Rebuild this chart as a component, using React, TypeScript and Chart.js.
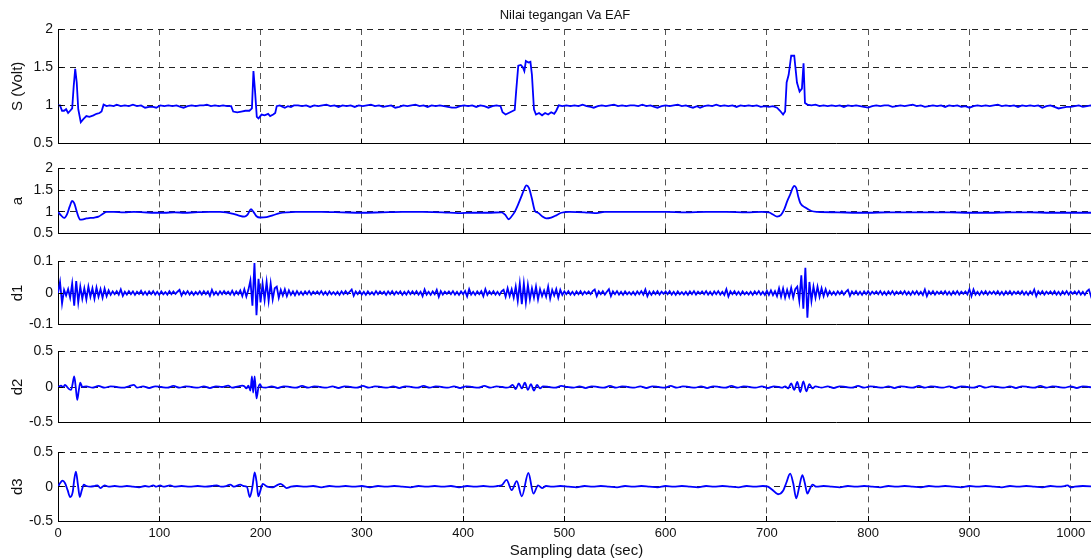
import React, { useEffect, useRef } from "react";
import { Chart, registerables } from "chart.js";

Chart.register(...registerables);

const TITLE = "Nilai tegangan Va EAF";
const X_TITLE = "Sampling data (sec)";
const X_TICKS = [0, 100, 200, 300, 400, 500, 600, 700, 800, 900, 1000];
const S_TICKS = [0.5, 1, 1.5, 2];
const A_TICKS = [0.5, 1, 1.5, 2];
const D1_TICKS = [-0.1, 0, 0.1];
const D2_TICKS = [-0.5, 0, 0.5];
const D3_TICKS = [-0.5, 0, 0.5];

// S (Volt): [sample, value]
const S_PTS = [
  [0,1.0],[2,1.0],[4,0.93],[6,0.93],[8,0.95],[10,0.9],[12,0.93],[14,0.96],[15.5,1.25],[17,1.48],[18.5,1.3],[20,0.95],[22.5,0.78],[25,0.82],[28,0.86],[31,0.85],[35,0.87],[38,0.89],[41,0.9],[43,0.92],[45,1.01],[48,0.99],
  [51,1.0],[55,0.99],[58,1.01],[62,0.99],[66,1.0],[70,0.99],[74,1.01],[78,0.99],[82,1.0],[86,0.97],[90,0.98],[94,0.98],[97,0.97],[101,1.0],[105,0.99],[109,1.0],[113,0.99],[117,1.0],[121,0.98],[124,0.97],[128,0.99],[132,1.0],[136,0.99],[140,1.0],[144,1.0],[147,1.01],[151,0.99],[155,1.0],[159,0.99],[163,1.0],[167,0.99],[171,0.99],
  [173,0.92],[177,0.91],[181,0.92],[185,0.93],[189,0.93],[191.5,0.96],[193,1.45],[194.5,1.2],[196.3,0.85],[198,0.83],[201,0.88],[204,0.87],[207.5,0.89],[209.5,0.86],[212.5,0.88],[214.5,0.9],[216,0.99],[219,1.0],[222,0.98],[224,0.97],[227,0.99],[230,0.98],[233,1.0],
  [237,1.0],[241,0.99],[245,1.0],[249,0.98],[253,1.0],[257,0.99],[261,1.0],[265,1.01],[269,0.99],[273,1.0],[277,0.98],[281,1.0],[285,0.99],[289,1.0],[293,0.98],[297,1.0],[301,0.99],[305,1.0],[309,1.01],[313,0.99],[317,1.0],[321,0.98],[325,0.99],[329,1.0],[333,0.97],[337,0.98],[341,1.0],[345,0.99],[349,1.0],[353,1.01],[357,0.99],[361,1.0],[365,0.98],[369,1.0],[373,0.99],[377,1.0],[381,0.99],[385,0.98],[389,0.97],[393,0.97],[397,0.99],[401,1.0],[405,0.99],[409,1.0],[413,0.98],[417,1.0],[421,0.99],[425,0.97],[429,0.99],[433,1.0],[437,0.99],
  [439,0.91],[442,0.88],[445,0.9],[448,0.92],[451,0.94],[452.5,1.2],[454.5,1.52],[457,1.53],[459,1.5],[460.5,1.45],[462,1.58],[464.5,1.56],[466.5,1.57],[468,1.4],[470,0.95],[472,0.88],[475,0.9],[478,0.87],[481,0.9],[484,0.88],[487,0.91],[490,0.89],[492,0.93],[494.5,1.0],[498,0.99],[502,1.0],
  [506,0.99],[510,1.0],[514,0.99],[518,1.01],[522,0.99],[526,0.98],[529,0.97],[533,0.99],[537,1.0],[541,0.99],[545,1.0],[549,1.01],[553,0.99],[557,1.0],[561,0.99],[565,1.0],[569,1.0],[573,0.99],[577,1.01],[581,0.99],[585,1.0],[589,0.98],[592,0.97],[596,0.99],[600,1.0],[604,0.99],[608,1.0],[612,1.01],[616,0.99],[620,1.0],[624,0.98],[627,0.97],[631,0.99],[634,0.97],[638,0.99],[642,1.0],[646,0.99],[650,1.01],[654,0.99],[658,1.0],[662,0.99],[666,1.0],[670,0.98],[674,1.0],[678,0.99],[682,1.0],[686,0.99],[690,1.0],[694,0.98],[698,0.99],[702,0.98],[706,0.99],
  [710,0.97],[713,0.93],[716,0.88],[718,0.92],[719.5,1.3],[721.5,1.4],[724,1.65],[727,1.65],[729.7,1.3],[732.3,1.18],[734.6,1.22],[736.2,1.55],[737.6,1.03],[740,1.01],
  [744,1.0],[748,1.01],[752,0.99],[756,1.0],[760,0.99],[764,1.0],[768,0.99],[772,1.0],[776,0.98],[780,1.0],[784,0.99],[788,1.0],[792,0.99],[796,0.98],[800,0.97],[804,0.99],[808,1.0],[812,0.99],[816,1.0],[820,1.0],[824,0.98],[828,0.99],[832,1.0],[836,0.99],[840,1.0],[844,1.01],[848,0.99],[852,1.0],[856,0.98],[860,0.99],[864,1.0],[868,0.99],[872,1.0],[876,0.98],[880,1.0],[884,0.99],[888,1.0],[892,0.98],[896,0.99],[900,0.97],[904,0.99],[908,1.0],[912,0.99],[916,1.0],[920,0.99],[924,1.0],[928,1.01],[932,0.99],[936,1.0],[940,0.99],[944,1.0],[948,0.98],[952,1.0],[956,0.99],[960,1.0],[964,0.99],[968,1.0],[972,0.97],[976,0.99],[980,1.0],[984,0.98],[988,0.96],[992,0.97],[996,0.98],[1000,0.98],[1004,0.99],[1008,1.0],[1012,0.98],[1016,0.99],[1020,1.0],[1024,0.99]
];

// a (approximation)
const A_PTS = [
  [0,1.0],[3,0.92],[6,0.86],[9,0.95],[11.5,1.12],[14,1.25],[16,1.2],[18,1.05],[20,0.9],[22,0.82],[25,0.83],[28,0.85],[32,0.86],[36,0.87],[40,0.89],[44,0.95],[48,1.0],[55,1.0],[65,0.99],[75,1.0],[85,0.99],[95,0.98],[105,0.98],[115,0.99],[125,0.98],[135,0.99],[150,1.0],[160,1.0],[166,0.99],
  [172,0.96],[178,0.92],[184,0.89],[187,0.93],[190.5,1.06],[193,1.0],[196,0.9],[199.5,0.87],[206,0.88],[212,0.92],[219,0.97],[226,0.99],[235,1.0],[260,1.0],[280,0.99],[300,0.98],[320,0.99],[340,1.0],[360,1.0],[380,0.99],[395,0.97],[410,0.98],[425,0.98],[438,0.99],
  [442,0.92],[445,0.83],[448,0.9],[451,1.0],[454,1.15],[457,1.32],[460,1.5],[462.5,1.61],[465,1.55],[468,1.3],[471,1.02],[474,0.98],[478,0.9],[482,0.85],[487,0.87],[492,0.92],[497,0.98],[505,1.0],[520,0.99],[530,0.97],[540,1.0],[560,1.0],[580,1.0],[600,1.0],[620,0.99],[640,1.0],[660,1.0],[680,0.99],[695,1.0],
  [702,0.99],[706,0.94],[710,0.89],[714,0.93],[717,1.05],[720,1.24],[723,1.4],[725.5,1.55],[727,1.6],[729,1.55],[731,1.35],[733,1.2],[738,1.1],[744,1.02],[750,1.0],[770,0.99],[790,0.98],[800,0.98],[820,0.99],[840,0.99],[860,0.99],[880,0.99],[900,0.98],[920,0.98],[940,0.99],[960,0.99],[980,0.98],[1000,0.98],[1024,0.98]
];

// d1 detail, one value every 2 samples from 0 to 1024
const D1_STEP = 2;
const D1_VALUES = [
  0, 0.035, -0.033, 0.01, -0.008, 0.012, -0.015, 0.03, -0.04, 0.038, -0.03, 0.02, -0.018, 0.015, -0.02, 0.02, -0.012, 0.015, -0.018, 0.017, -0.012, 0.012, -0.015, 0.014, -0.01,
  0.008, -0.006, 0.005, -0.004, 0.006, -0.005, 0.011, -0.009, 0.004, -0.005, 0.006, -0.004, 0.005, -0.006, 0.004, -0.003, 0.007, -0.005, 0.004, -0.006, 0.005, -0.004, 0.006, -0.005, 0.004,
  -0.006, 0.005, -0.004, 0.003, -0.005, 0.006, -0.004, 0.005, -0.003, 0.004, 0.01, -0.008, 0.005, -0.004, 0.006, -0.005, 0.004, -0.006, 0.003, -0.004, 0.005, -0.005, 0.006, -0.004, 0.005,
  -0.009, 0.01, -0.005, 0.004, -0.006, 0.005, -0.004, 0.006, -0.003, 0.004, -0.005, 0.007, -0.006, 0.005, -0.004, 0.008, -0.01, 0.012, -0.011, 0.01, 0.04, -0.04, 0.095, -0.07, 0.045,
  -0.03, 0.03, -0.022, 0.035, -0.025, 0.03, -0.02, 0.015, 0.02, -0.015, 0.01, -0.008, 0.012, -0.01, 0.008, -0.006, 0.005, -0.007, 0.006, -0.005, 0.004, -0.006, 0.005, -0.004, 0.006,
  -0.005, 0.004, -0.003, 0.005, -0.004, 0.006, -0.005, 0.004, -0.006, 0.005, -0.004, 0.003, -0.005, 0.004, -0.006, 0.005, -0.004, 0.006, -0.003, 0.004, 0.011, -0.009, 0.005, -0.004, 0.006,
  -0.005, 0.004, -0.006, 0.005, -0.004, 0.003, -0.005, 0.006, -0.004, 0.005, -0.003, 0.004, -0.006, 0.005, -0.004, 0.006, -0.005, 0.004, -0.003, 0.005, -0.006, 0.004, -0.005, 0.006, -0.004,
  0.005, -0.004, 0.006, -0.005, 0.004, -0.01, 0.011, -0.005, 0.004, -0.006, 0.005, -0.004, 0.01, -0.012, 0.006, -0.005, 0.004, -0.003, 0.005, -0.004, 0.006, -0.005, 0.004, -0.006, 0.005,
  -0.004, 0.006, -0.011, 0.012, -0.005, 0.004, -0.006, 0.005, -0.004, 0.006, -0.01, 0.012, -0.006, 0.005, -0.004, 0.006, -0.005, 0.004, -0.006, 0.005, 0.01, -0.012, 0.015, -0.01, 0.012,
  -0.015, 0.02, -0.025, 0.03, -0.035, 0.03, -0.03, 0.025, -0.02, 0.015, -0.015, 0.02, -0.02, 0.012, -0.01, 0.008, -0.012, 0.02, -0.018, 0.01, -0.008, 0.012, -0.015, 0.01, -0.006,
  0.005, -0.004, 0.006, -0.005, 0.004, -0.006, 0.005, -0.004, 0.006, -0.005, 0.004, -0.003, 0.005, -0.004, 0.006, 0.011, -0.01, 0.005, -0.004, 0.006, -0.005, 0.004, 0.012, -0.01, 0.005,
  -0.004, 0.006, -0.005, 0.004, -0.006, 0.005, -0.004, 0.003, -0.005, 0.004, -0.006, 0.005, -0.004, 0.006, -0.005, 0.011, -0.01, 0.004, -0.006, 0.005, -0.004, 0.006, -0.005, 0.004, -0.003,
  0.005, -0.004, 0.006, -0.005, 0.004, -0.006, 0.005, -0.004, 0.003, -0.005, 0.004, -0.006, 0.005, -0.004, 0.006, -0.005, 0.004, -0.003, 0.005, -0.004, 0.006, -0.005, 0.004, -0.006, 0.005,
  -0.004, 0.006, -0.005, 0.004, -0.006, 0.012, -0.011, 0.005, -0.004, 0.006, -0.005, 0.004, -0.006, 0.005, -0.004, 0.003, -0.005, 0.004, -0.006, 0.005, -0.004, 0.006, -0.005, 0.004, -0.006,
  0.007, -0.006, 0.008, -0.007, 0.006, -0.01, 0.015, -0.012, 0.014, -0.015, 0.01, -0.012, 0.016, -0.014, 0.012, 0.02, -0.025, 0.056, -0.05, 0.08, -0.078, 0.035, -0.025, 0.02, -0.015,
  0.02, -0.012, 0.015, -0.01, 0.012, -0.008, 0.006, -0.005, 0.004, -0.006, 0.005, -0.004, 0.006, -0.005, 0.004, 0.01, -0.009, 0.005, -0.004, 0.006, -0.005, 0.004, -0.006, 0.005, -0.004,
  0.006, -0.005, 0.004, -0.003, 0.005, -0.004, 0.006, -0.005, 0.004, -0.006, 0.005, -0.004, 0.006, -0.005, 0.004, -0.003, 0.005, -0.004, 0.006, -0.005, 0.004, -0.006, 0.005, -0.004, 0.006,
  -0.005, 0.004, -0.006, 0.011, -0.01, 0.005, -0.004, 0.006, -0.005, 0.004, -0.003, 0.005, -0.004, 0.006, -0.005, 0.004, -0.006, 0.005, -0.004, 0.006, -0.005, 0.004, -0.003, 0.005, -0.004,
  0.012, -0.01, 0.011, -0.005, 0.004, -0.006, 0.005, -0.004, 0.006, -0.005, 0.004, -0.003, 0.005, -0.004, 0.006, -0.005, 0.004, -0.006, 0.005, -0.004, 0.006, -0.005, 0.004, -0.003, 0.005,
  -0.004, 0.006, -0.005, 0.004, -0.006, 0.005, -0.004, 0.011, -0.01, 0.005, -0.004, 0.006, -0.005, 0.004, -0.003, 0.005, -0.004, 0.006, -0.005, 0.004, -0.006, 0.005, -0.004, 0.006, -0.005,
  0.004, -0.003, 0.005, -0.004, 0.006, -0.005, 0.004, -0.006, 0.005, 0.011, -0.01, 0.005, -0.004
];

// d2 detail
const D2_PTS = [
  [0,0],[3,0.02],[5,0],[7,0.03],[9,0],[11,-0.03],[13,-0.04],[14.5,0.05],[16,0.15],[17.5,0],[19,-0.18],[20.5,-0.05],[22,0.06],[24,0],[28,0.01],[34,-0.01],[40,0.015],[46,-0.01],[52,0.01],[58,0],[64,-0.01],[70,0.01],[75,0.03],[78,-0.01],[84,0.01],[90,-0.015],[96,0.01],[102,0],[108,-0.01],[114,0.015],[120,-0.01],[126,0.01],[132,0],[138,-0.01],[144,0.01],[150,-0.015],[156,0.01],[162,0],[168,0.02],[172,-0.01],[178,0.01],[182,0.02],[184,0.01],[186,-0.02],[188,0.02],
  [190,-0.05],[191.5,0.15],[192.7,-0.08],[194.2,0.15],[196,-0.16],[198,0],[199.5,0.04],[201,0],[205,-0.01],[211,0.01],[217,-0.015],[223,0.01],[229,0],[235,-0.01],[241,0.015],[247,-0.01],[253,0.01],[259,0],[265,-0.01],[271,0.01],[277,-0.015],[283,0.01],[289,0],[295,-0.01],[301,0.015],[307,-0.01],[313,0.01],[319,0],[325,-0.01],[331,0.01],[337,-0.015],[343,0.01],[349,0],[355,-0.01],[361,0.015],[367,-0.01],[373,0.01],[379,0],[385,-0.01],[391,0.01],[397,-0.015],[403,0.01],[409,0],[415,-0.01],[421,0.015],[427,-0.01],[433,0.01],[439,0],[443,-0.01],
  [446,0],[449,0.03],[452,-0.03],[455,0.05],[458,-0.02],[461,0.06],[464,-0.04],[467,0.04],[470,-0.05],[473,0.03],[476,-0.02],[479,0.01],[485,0],[491,-0.01],[497,0.015],[503,0],[509,-0.01],[515,0.01],[521,-0.015],[527,0.01],[533,0],[539,-0.01],[545,0.015],[551,-0.01],[557,0.01],[563,0],[569,-0.01],[575,0.01],[581,-0.015],[587,0.01],[593,0],[599,-0.01],[605,0.015],[611,-0.01],[617,0.01],[623,0],[629,-0.01],[635,0.01],[641,-0.015],[647,0.01],[653,0],[659,-0.01],[665,0.015],[671,-0.01],[677,0.01],[683,0],[689,-0.01],[695,0.01],[701,-0.015],[707,0.01],[712,0],[715,-0.01],
  [718,0.01],[721,-0.02],[724,0.05],[727,-0.04],[730,0.07],[733,-0.07],[736,0.08],[739,-0.06],[742,0.04],[745,-0.02],[748,0.01],[754,-0.01],[760,0.01],[766,-0.015],[772,0.01],[778,0],[784,-0.01],[790,0.015],[796,-0.01],[802,0.01],[808,0],[814,-0.01],[820,0.01],[826,-0.015],[832,0.01],[838,0],[844,-0.01],[850,0.015],[856,-0.01],[862,0.01],[868,0],[874,-0.01],[880,0.01],[886,-0.015],[892,0.01],[898,0],[904,-0.01],[910,0.015],[916,-0.01],[922,0.01],[928,0],[934,-0.01],[940,0.01],[946,-0.015],[952,0.01],[958,0],[964,-0.01],[970,0.015],[976,-0.01],[982,0.01],[988,0],[994,-0.01],[1000,0.01],[1006,-0.015],[1012,0.01],[1018,0],[1024,-0.01]
];

// d3 detail
const D3_PTS = [
  [0,0],[2,0.05],[4.5,0.09],[7,0.05],[9.5,-0.05],[12,-0.15],[14.5,-0.08],[16,0.1],[17.7,0.22],[19.5,0.05],[21.5,-0.15],[23.5,-0.05],[25.5,0.03],[28,0.01],[32,0],[36,0.01],[39,0.02],[42,-0.02],[46,0.02],[50,0],[56,0.01],[62,0],[68,0.01],[74,0],[80,-0.01],[86,0.01],[90,0],[94,0.02],[97,0],[100.8,0.02],[104,0],[110.7,0.02],[115,0],[122,0.01],[130,0],[138,0.01],[146,0],[152,0.01],[156.8,0.02],[161,0],[166,0.01],[170,0.03],[174,0],[180,0.03],[183,0.01],
  [186.5,0],[189.4,-0.15],[192,0],[194.2,0.21],[196,0.08],[197.8,-0.14],[200,-0.05],[202.2,0.04],[206.6,0],[212,-0.01],[216,0.02],[219.8,0.04],[223,0.01],[225.6,-0.02],[230,0],[236,0.01],[244,0],[252,0.01],[260,-0.01],[268,0.01],[276,0],[284,0.01],[292,0],[300,0.01],[308,-0.01],[316,0.01],[324,0],[332,0.01],[340,0],[348,-0.01],[356,0.01],[364,0],[372,0.01],[380,0],[388,0.01],[396,-0.01],[404,0.01],[412,0],[420,0.01],[428,0],[434,0.01],
  [438,0.02],[443,0.1],[448,-0.05],[453,0.08],[458,-0.14],[464.5,0.2],[469.5,-0.1],[474,0.02],[478,-0.02],[482,0.01],[488,0],[496,0.01],[504,0],[512,-0.01],[520,0.01],[528,0],[536,0.01],[544,0],[552,-0.01],[560,0.01],[568,0],[576,0.01],[584,0],[592,-0.01],[600,0.01],[608,0],[616,0.01],[624,0],[632,-0.01],[640,0.01],[648,0],[656,0.01],[664,0],[672,-0.01],[680,0.01],[688,0],[696,0.01],
  [701,0],[705,-0.04],[711,-0.11],[716,-0.06],[719,0.05],[723,0.19],[726,0.05],[729,-0.17],[732,0],[735,0.17],[737.5,0.05],[740,-0.1],[742.5,-0.03],[745,0.03],[749,0],[756,0.01],[764,0],[772,-0.01],[780,0.01],[788,0],[796,0.01],[804,0],[812,-0.01],[820,0.01],[828,0],[836,0.01],[844,0],[852,-0.01],[860,0.01],[868,0],[876,0.01],[884,0],[892,-0.01],[900,0.01],[908,0],[916,0.01],[924,0],[932,-0.01],[940,0.01],[948,0],[956,0.01],[964,0],[972,-0.01],[980,0.01],[988,0],[994,0.01],[997,0.02],[1000,-0.01],[1004,0],[1012,0.01],[1024,0]
];

const FONT = '"Liberation Sans", Arial, Helvetica, sans-serif';
const CANVAS_W = 1095;
const PAGE_H = 558;

type PanelCfg = {
  label: string;
  pts: { x: number; y: number }[];
  ticks: number[];
  top: number;
  bottom: number;
  smooth: boolean;
};

const PANELS: PanelCfg[] = [
  { label: "S (Volt)", pts: S_PTS.map(([x, y]) => ({ x, y })), ticks: S_TICKS, top: 29, bottom: 147, smooth: false },
  { label: "a", pts: A_PTS.map(([x, y]) => ({ x, y })), ticks: A_TICKS, top: 165, bottom: 237, smooth: true },
  { label: "d1", pts: D1_VALUES.map((y, i) => ({ x: i * D1_STEP, y })), ticks: D1_TICKS, top: 258, bottom: 328, smooth: false },
  { label: "d2", pts: D2_PTS.map(([x, y]) => ({ x, y })), ticks: D2_TICKS, top: 348, bottom: 426, smooth: true },
  { label: "d3", pts: D3_PTS.map(([x, y]) => ({ x, y })), ticks: D3_TICKS, top: 449, bottom: 521, smooth: true },
];

const align = (p: number) => Math.round(p - 0.5) + 0.5;
const fmt = (v: any) => String(Number(Number(v).toFixed(4)));

const innerTicks = {
  id: "innerTicks",
  afterDraw(chart: any) {
    const { ctx, chartArea: a, scales } = chart;
    const x = scales.x;
    const y = scales.y;
    ctx.save();
    ctx.strokeStyle = "#000";
    ctx.lineWidth = 1;
    ctx.setLineDash([]);
    ctx.beginPath();
    for (const t of x.ticks) {
      const px = align(x.getPixelForValue(t.value));
      ctx.moveTo(px, a.bottom);
      ctx.lineTo(px, a.bottom - 5);
    }
    for (const t of y.ticks) {
      const py = align(y.getPixelForValue(t.value));
      ctx.moveTo(a.left, py);
      ctx.lineTo(a.left + 5, py);
    }
    ctx.stroke();
    ctx.restore();
  },
};

const mainTitle = {
  id: "mainTitle",
  afterDraw(chart: any) {
    const ctx = chart.ctx;
    ctx.save();
    ctx.font = `13px ${FONT}`;
    ctx.fillStyle = "#111";
    ctx.textAlign = "center";
    ctx.textBaseline = "alphabetic";
    ctx.fillText(TITLE, 565, 19);
    ctx.restore();
  },
};

function Panel({ cfg, first, last }: { cfg: PanelCfg; first: boolean; last: boolean }) {
  const ref = useRef<HTMLCanvasElement>(null);
  const canvasTop = first ? 0 : cfg.top - 10;
  const canvasBottom = last ? PAGE_H : cfg.bottom + 10;
  const height = canvasBottom - canvasTop;
  const padTop = cfg.top - canvasTop;

  useEffect(() => {
    if (!ref.current) return;
    const chart = new Chart(ref.current, {
      type: "line",
      data: {
        datasets: [
          {
            data: cfg.pts,
            borderColor: "#0000ff",
            borderWidth: 1.8,
            pointRadius: 0,
            fill: false,
            tension: 0,
            cubicInterpolationMode: cfg.smooth ? "monotone" : "default",
          } as any,
        ],
      },
      options: {
        animation: false,
        responsive: false,
        maintainAspectRatio: false,
        devicePixelRatio: 1,
        events: [],
        layout: { padding: { top: padTop, bottom: last ? 0 : 10, left: 0, right: 0 } },
        plugins: {
          legend: { display: false },
          tooltip: { enabled: false },
          title: { display: false },
        },
        scales: {
          x: {
            type: "linear",
            min: 0,
            max: 1024,
            afterBuildTicks: (s: any) => {
              s.ticks = X_TICKS.map((v) => ({ value: v }));
            },
            afterFit: (s: any) => {
              s.height = last ? PAGE_H - cfg.bottom : 0;
            },
            grid: { color: "#555", lineWidth: 1, drawTicks: false },
            border: { display: true, color: "#000", width: 1, dash: [6, 5] },
            ticks: {
              display: last,
              padding: 5,
              autoSkip: false,
              maxRotation: 0,
              color: "#111",
              font: { family: FONT, size: 13 },
              callback: (v: any) => fmt(v),
            },
            title: {
              display: last,
              text: X_TITLE,
              color: "#111",
              font: { family: FONT, size: 15, lineHeight: 1 },
              padding: { top: 0, bottom: 0 },
            },
          },
          y: {
            type: "linear",
            min: cfg.ticks[0],
            max: cfg.ticks[cfg.ticks.length - 1],
            afterBuildTicks: (s: any) => {
              s.ticks = cfg.ticks.map((v) => ({ value: v }));
            },
            afterFit: (s: any) => {
              s.width = 58;
            },
            grid: { color: "#222", lineWidth: 1, drawTicks: false },
            border: { display: true, color: "#000", width: 1, dash: [6, 5] },
            ticks: {
              padding: 5,
              color: "#111",
              font: { family: FONT, size: 14 },
              callback: (v: any) => fmt(v),
            },
            title: {
              display: true,
              text: cfg.label,
              color: "#111",
              font: { family: FONT, size: 15, lineHeight: 1 },
              padding: { top: 10, bottom: 0 },
            },
          },
        },
      } as any,
      plugins: first ? [innerTicks, mainTitle] : [innerTicks],
    });
    return () => chart.destroy();
  }, []);

  return (
    <canvas
      ref={ref}
      width={CANVAS_W}
      height={height}
      style={{ position: "absolute", left: 0, top: canvasTop, width: CANVAS_W, height, display: "block" }}
    />
  );
}

export default function App() {
  return (
    <div
      style={{
        position: "fixed",
        left: 0,
        top: 0,
        width: 1091,
        height: PAGE_H,
        overflow: "hidden",
        background: "#fff",
      }}
    >
      {PANELS.map((p, i) => (
        <Panel key={p.label} cfg={p} first={i === 0} last={i === PANELS.length - 1} />
      ))}
    </div>
  );
}
